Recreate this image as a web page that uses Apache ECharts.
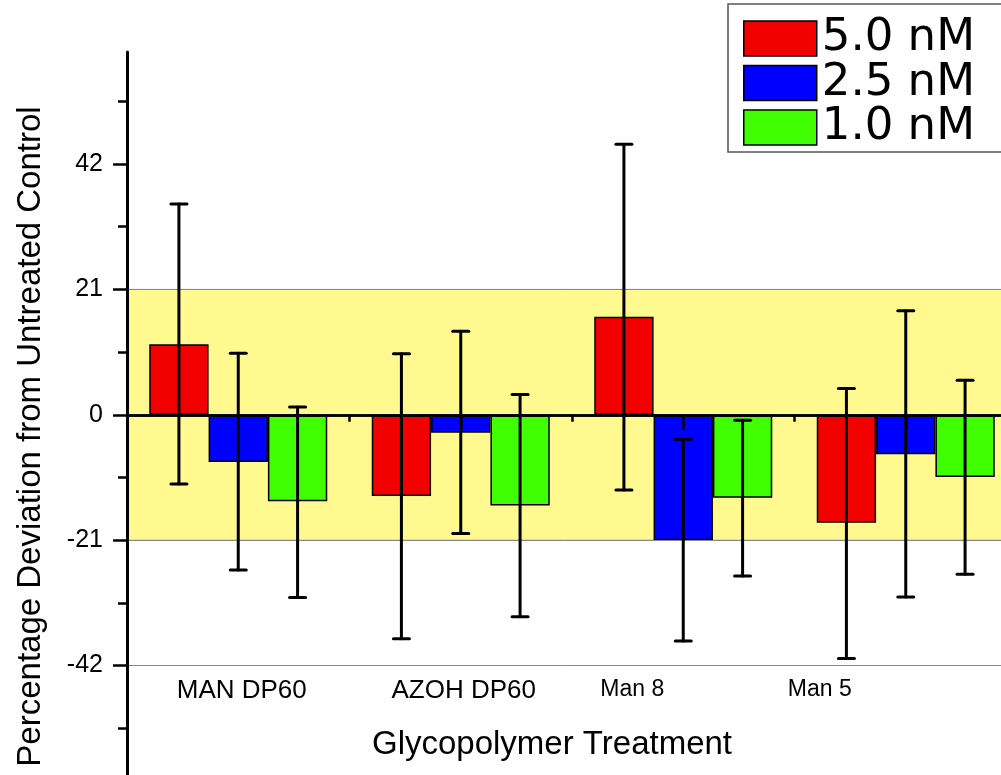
<!DOCTYPE html>
<html>
<head>
<meta charset="utf-8">
<script src="https://cdn.jsdelivr.net/npm/echarts@6/dist/echarts.min.js"></script>
<style>
html,body{margin:0;padding:0;background:#fff;}
#chart{width:1001px;height:775px;}
</style>
</head>
<body>
<div id="chart"></div>
<script>
// ---- data ----
var categories = ['MAN DP60', 'AZOH DP60', 'Man 8', 'Man 5'];
var seriesNames = ['5.0 nM', '2.5 nM', '1.0 nM'];
var conc50 = [11.8, -13.6, 16.4, -18.1];
var conc25 = [-7.9, -3.0, -21.0, -6.6];
var conc10 = [-14.5, -15.2, -13.9, -10.4];
var err50Low = [-11.6, -37.5, -12.6, -40.8];
var err50High = [35.3, 10.2, 45.3, 4.4];
var err25Low = [-26.0, -19.9, -37.9, -30.5];
var err25High = [10.3, 14.0, -4.1, 17.4];
var err10Low = [-30.6, -33.8, -27.0, -26.7];
var err10High = [1.3, 3.4, -0.9, 5.8];
var majorTicks = [-63, -42, -21, 0, 21, 42];
var tickLabels = [-42, -21, 0, 21, 42];
var minorTicks = [-52.5, -31.5, -10.5, 10.5, 31.5, 52.5];
var bandRange = [-21, 21];

// ---- styling ----
var colors = ['#f20000', '#0000ff', '#40ff00'];
var yMin = -63, yMax = 60.75;

function errData(lo, hi) {
  return categories.map(function (c, i) { return [i, lo[i], hi[i]]; });
}
function errSeries(k, lo, hi) {
  return {
    type: 'custom',
    xAxisIndex: 0, yAxisIndex: 0,
    z: 10,
    silent: true,
    encode: { x: 0, y: [1, 2] },
    data: errData(lo, hi),
    renderItem: function (params, api) {
      var cat = api.value(0), l = api.value(1), h = api.value(2);
      var band = api.size([1, 0])[0];
      var bw = band * 0.8 / 3;
      var cx = api.coord([cat, 0])[0] + (k - 1) * bw;
      var yl = api.coord([cat, l])[1], yh = api.coord([cat, h])[1];
      var cap = 8;
      var st = { stroke: '#000', lineWidth: 3, lineCap: 'round' };
      return {
        type: 'group',
        children: [
          { type: 'line', shape: { x1: cx, y1: yl, x2: cx, y2: yh }, style: st },
          { type: 'line', shape: { x1: cx - cap, y1: yh, x2: cx + cap, y2: yh }, style: st },
          { type: 'line', shape: { x1: cx - cap, y1: yl, x2: cx + cap, y2: yl }, style: st }
        ]
      };
    }
  };
}
function barSeries(k, data) {
  return {
    name: seriesNames[k],
    type: 'bar',
    xAxisIndex: 0, yAxisIndex: 0,
    z: 3,
    barGap: '0%',
    barCategoryGap: '20%',
    itemStyle: { color: colors[k], borderColor: '#000', borderWidth: 1.5 },
    data: data
  };
}

var labelRich = {
  l0: { fontSize: 26, fontFamily: 'Liberation Sans', color: '#000', padding: [0, 0, 0, 7] },
  l1: { fontSize: 26, fontFamily: 'Liberation Sans', color: '#000', padding: [0, 0, 0, 6] },
  l2: { fontSize: 23, fontFamily: 'Liberation Sans', color: '#000', padding: [0, 102, 0, 0] },
  l3: { fontSize: 23, fontFamily: 'Liberation Sans', color: '#000', padding: [0, 172, 0, 0] }
};

var chart = echarts.init(document.getElementById('chart'), null, { renderer: 'canvas' });
chart.setOption({
  animation: false,
  backgroundColor: '#fff',
  grid: { left: 127, top: 52, width: 890, height: 739, containLabel: false, outerBoundsMode: 'none' },
  legend: {
    data: seriesNames,
    orient: 'vertical',
    left: 728, top: 4,
    icon: 'rect',
    itemWidth: 73, itemHeight: 35, itemGap: -0.5,
    padding: [12, 40, 2, 15],
    backgroundColor: '#fff',
    borderColor: '#555', borderWidth: 1.5, borderRadius: 0,
    itemStyle: { borderColor: '#000', borderWidth: 1.5 },
    textStyle: { fontSize: 45, fontFamily: 'DejaVu Sans', color: '#000', lineHeight: 25, padding: [0, 0, 10, 0] },
    z: 20
  },
  xAxis: [
    {
      type: 'category', data: categories, position: 'bottom', z: 6,
      axisLine: { show: true, onZero: true, lineStyle: { color: '#000', width: 2.5 } },
      axisTick: { show: true, alignWithLabel: true, inside: false, length: 15, lineStyle: { color: '#000', width: 2.5 } },
      axisLabel: { show: false },
      splitLine: { show: false }
    },
    {
      type: 'category', data: categories, position: 'bottom', z: 6,
      axisLine: { show: true, onZero: true, lineStyle: { color: '#000', width: 2.5 } },
      axisTick: { show: true, alignWithLabel: false, inside: false, length: 7, lineStyle: { color: '#000', width: 2.5 } },
      axisLabel: { show: false },
      splitLine: { show: false }
    },
    {
      type: 'category', data: categories, position: 'bottom', offset: -113, z: 6,
      axisLine: { show: false, onZero: false },
      axisTick: { show: false },
      axisLabel: {
        show: true, interval: 0, margin: 0,
        formatter: function (v, i) { return '{l' + i + '|' + v + '}'; },
        rich: labelRich
      },
      name: 'Glycopolymer Treatment',
      nameLocation: 'middle',
      nameGap: 50,
      nameTextStyle: { fontSize: 33, fontFamily: 'Liberation Sans', color: '#000', padding: [0, 40, 0, 0] },
      splitLine: { show: false }
    }
  ],
  yAxis: [
    {
      type: 'value', min: yMin, max: yMax, interval: 21, position: 'left', z: 6,
      axisLine: { show: true, lineStyle: { color: '#000', width: 3 } },
      axisTick: { show: true, inside: false, length: 14, customValues: majorTicks, lineStyle: { color: '#000', width: 2.5 } },
      axisLabel: { show: true, margin: 24, customValues: tickLabels, fontSize: 25, fontFamily: 'Liberation Sans', color: '#000' },
      splitLine: { show: true, showMaxLine: false, showMinLine: false, lineStyle: { color: '#888', width: 1 } },
      name: 'Percentage Deviation from Untreated Control',
      nameLocation: 'middle',
      nameGap: 80,
      nameRotate: 90,
      nameTextStyle: { fontSize: 33, fontFamily: 'Liberation Sans', color: '#000', padding: [0, 30, 0, 0] }
    },
    {
      type: 'value', min: yMin, max: yMax, position: 'left', z: 6,
      axisLine: { show: false },
      axisTick: { show: true, inside: false, length: 9, customValues: minorTicks, lineStyle: { color: '#000', width: 2.5 } },
      axisLabel: { show: false },
      splitLine: { show: false }
    }
  ],
  series: [
    {
      type: 'line', xAxisIndex: 0, yAxisIndex: 0, z: 1, silent: true, data: [],
      markArea: {
        silent: true,
        itemStyle: { color: '#fff98f', borderColor: '#999', borderWidth: 1 },
        data: [[{ yAxis: bandRange[0] }, { yAxis: bandRange[1] }]]
      }
    },
    barSeries(0, conc50),
    barSeries(1, conc25),
    barSeries(2, conc10),
    errSeries(0, err50Low, err50High),
    errSeries(1, err25Low, err25High),
    errSeries(2, err10Low, err10High)
  ]
});
</script>
</body>
</html>
